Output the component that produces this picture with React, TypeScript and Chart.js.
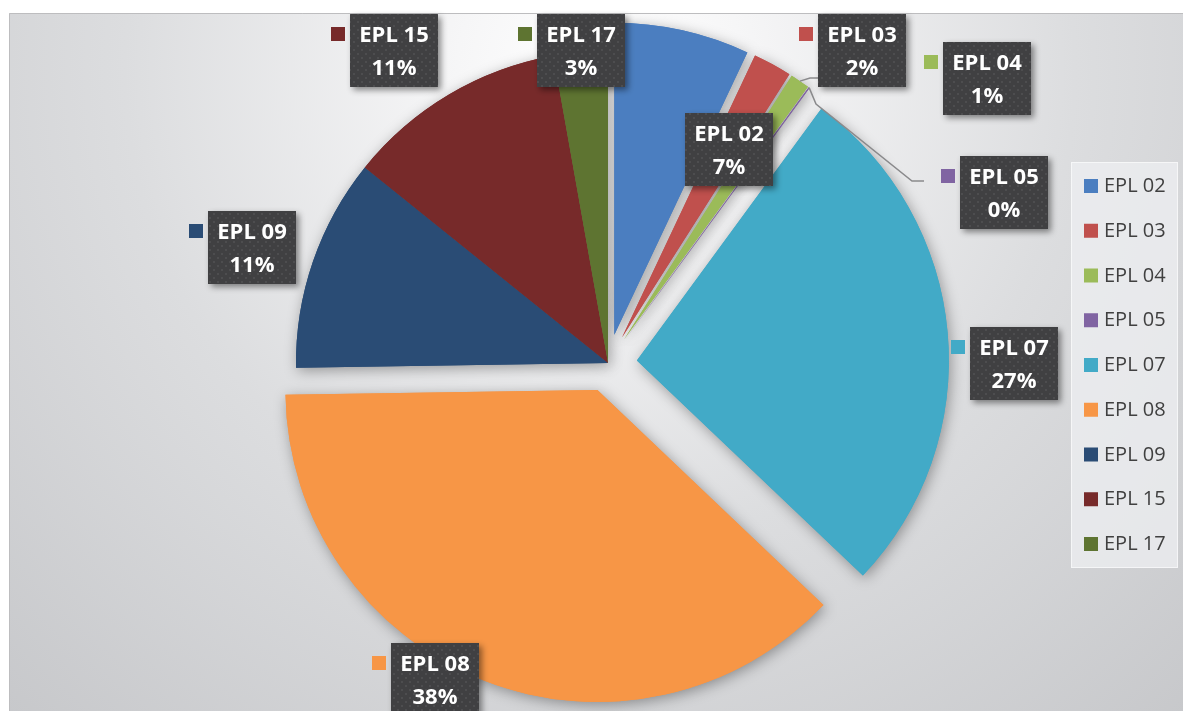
import React, { useEffect, useRef } from "react";
import { Chart, registerables } from "chart.js";

Chart.register(...registerables);

// ---------- data ----------
const categories = ["EPL 02", "EPL 03", "EPL 04", "EPL 05", "EPL 07", "EPL 08", "EPL 09", "EPL 15", "EPL 17"];
const shares = [7, 2, 1, 0.05, 27, 37.6, 11, 11.4, 2.8];

// ---------- styles / layout ----------
const sliceColors = ["#4b7ec0", "#c0504d", "#9bbb59", "#8064a2", "#42aac7", "#f79646", "#2a4c75", "#772a2a", "#5e7431"];
const explode = [29, 29, 29, 29, 29, 29, 0, 0, 0];
const labelBoxes: [number, number][] = [
  [685, 113], [818, 14], [943, 42], [960, 156], [970, 327], [391, 643], [208, 211], [350, 14], [537, 14],
];
const leaderPaths: { index: number; points: [number, number][] }[] = [
  { index: 2, points: [[810, 78], [818, 78]] },
  { index: 3, points: [[816, 104], [912, 181], [924, 181]] },
];
const BOX_W = 88;
const BOX_H = 73;
const LABEL_FONT = "bold 22px 'Open Sans'";
const LEGEND_FONT = "20px 'Open Sans'";

function makePattern(ctx: CanvasRenderingContext2D) {
  const c = document.createElement("canvas");
  c.width = 8;
  c.height = 8;
  const p = c.getContext("2d")!;
  p.fillStyle = "#404042";
  p.fillRect(0, 0, 8, 8);
  p.fillStyle = "rgba(255,255,255,0.07)";
  p.fillRect(1, 1, 2, 2);
  p.fillRect(5, 5, 2, 2);
  return ctx.createPattern(c, "repeat")!;
}

const bgPlugin = {
  id: "excelBg",
  beforeDraw(chart: any) {
    const ctx: CanvasRenderingContext2D = chart.ctx;
    const W = chart.width;
    const H = chart.height;
    ctx.save();
    ctx.fillStyle = "#ffffff";
    ctx.fillRect(0, 0, W, H);
    const g = ctx.createRadialGradient(600, 70, 0, 600, 70, 950);
    g.addColorStop(0, "#ffffff");
    g.addColorStop(0.15, "#f6f6f7");
    g.addColorStop(0.5, "#dcdddf");
    g.addColorStop(1, "#c3c4c7");
    ctx.fillStyle = g;
    ctx.fillRect(9, 13, W - 9, H - 13);
    ctx.strokeStyle = "#bdbdbf";
    ctx.lineWidth = 1;
    ctx.beginPath();
    ctx.moveTo(9.5, H);
    ctx.lineTo(9.5, 13.5);
    ctx.lineTo(W, 13.5);
    ctx.stroke();
    ctx.restore();
  },
};

const explodePlugin = {
  id: "explode",
  afterDatasetUpdate(chart: any, args: any) {
    const meta = args.meta;
    meta.data.forEach((arc: any, i: number) => {
      const d = explode[i] || 0;
      const mid = (arc.startAngle + arc.endAngle) / 2;
      arc.x += Math.cos(mid) * d;
      arc.y += Math.sin(mid) * d;
    });
  },
  beforeDatasetsDraw(chart: any) {
    const ctx: CanvasRenderingContext2D = chart.ctx;
    const meta = chart.getDatasetMeta(0);
    ctx.save();
    ctx.shadowColor = "rgba(0,0,0,0.35)";
    ctx.shadowBlur = 14;
    ctx.shadowOffsetX = 2;
    ctx.shadowOffsetY = 3;
    meta.data.forEach((arc: any) => arc.draw(ctx));
    ctx.restore();
  },
};

const overlayPlugin = {
  id: "overlay",
  afterDraw(chart: any) {
    const ctx: CanvasRenderingContext2D = chart.ctx;
    const meta = chart.getDatasetMeta(0);
    const total = shares.reduce((a, b) => a + b, 0);

    // leader lines
    ctx.save();
    ctx.strokeStyle = "#8a8a8c";
    ctx.lineWidth = 1.5;
    leaderPaths.forEach((lp) => {
      const arc = meta.data[lp.index];
      const mid = (arc.startAngle + arc.endAngle) / 2;
      const sx = arc.x + Math.cos(mid) * arc.outerRadius;
      const sy = arc.y + Math.sin(mid) * arc.outerRadius;
      ctx.beginPath();
      ctx.moveTo(sx, sy);
      lp.points.forEach(([x, y]) => ctx.lineTo(x, y));
      ctx.stroke();
    });
    ctx.restore();

    // data labels
    const pattern = makePattern(ctx);
    categories.forEach((cat, i) => {
      const [bx, by] = labelBoxes[i];
      ctx.save();
      ctx.shadowColor = "rgba(0,0,0,0.45)";
      ctx.shadowBlur = 6;
      ctx.shadowOffsetX = 3;
      ctx.shadowOffsetY = 3;
      ctx.fillStyle = pattern;
      ctx.fillRect(bx, by, BOX_W, BOX_H);
      ctx.restore();

      ctx.save();
      ctx.fillStyle = sliceColors[i];
      ctx.fillRect(bx - 19, by + 13, 14, 14);
      ctx.fillStyle = "#ffffff";
      ctx.font = LABEL_FONT;
      ctx.textAlign = "center";
      ctx.textBaseline = "alphabetic";
      const pct = Math.round((shares[i] / total) * 100) + "%";
      ctx.fillText(cat, bx + BOX_W / 2, by + 28);
      ctx.fillText(pct, bx + BOX_W / 2, by + 61);
      ctx.restore();
    });

    // legend
    ctx.save();
    ctx.fillStyle = "rgba(238,239,241,0.75)";
    ctx.fillRect(1071, 162, 107, 406);
    ctx.strokeStyle = "rgba(255,255,255,0.6)";
    ctx.lineWidth = 1;
    ctx.strokeRect(1071.5, 162.5, 106, 405);
    ctx.font = LEGEND_FONT;
    ctx.textAlign = "left";
    ctx.textBaseline = "alphabetic";
    categories.forEach((cat, i) => {
      const y = 179 + i * 44.75;
      ctx.fillStyle = sliceColors[i];
      ctx.fillRect(1084, y, 14, 14);
      ctx.fillStyle = "#404040";
      ctx.fillText(cat, 1104, y + 13);
    });
    ctx.restore();
  },
};

export default function App() {
  const ref = useRef<HTMLCanvasElement>(null);
  useEffect(() => {
    if (!ref.current) return;
    const chart = new Chart(ref.current, {
      type: "pie",
      data: {
        labels: categories,
        datasets: [
          {
            data: shares,
            backgroundColor: sliceColors,
            borderWidth: 0,
          },
        ],
      },
      options: {
        responsive: false,
        animation: false,
        radius: 312,
        layout: { padding: { left: 33, right: 0, top: 15, bottom: 0 } },
        plugins: {
          legend: { display: false },
          tooltip: { enabled: false },
        },
      } as any,
      plugins: [bgPlugin, explodePlugin, overlayPlugin],
    });
    return () => chart.destroy();
  }, []);
  return (
    <div style={{ position: "fixed", left: 0, top: 0, width: 1183, height: 711 }}>
      <canvas ref={ref} width={1183} height={711} style={{ display: "block" }} />
    </div>
  );
}
